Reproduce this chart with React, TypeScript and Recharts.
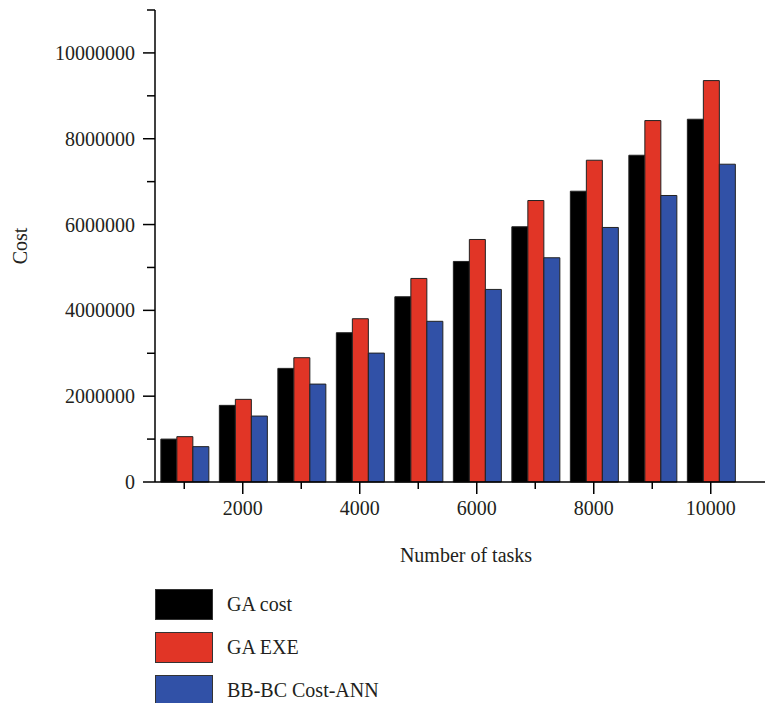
import { BarChart, Bar, XAxis, YAxis } from "recharts"

const tasks = [1000, 2000, 3000, 4000, 5000, 6000, 7000, 8000, 9000, 10000]
const gaCost = [1000000, 1786000, 2648000, 3479000, 4317000, 5140000, 5948000, 6777000, 7615000, 8454000]
const gaExe = [1057000, 1926000, 2897000, 3805000, 4744000, 5652000, 6560000, 7499000, 8423000, 9355000]
const bbbcCost = [824000, 1537000, 2282000, 3004000, 3745000, 4488000, 5226000, 5932000, 6677000, 7406000]
const yTicks = [0, 1000000, 2000000, 3000000, 4000000, 5000000, 6000000, 7000000, 8000000, 9000000, 10000000, 11000000]

const seriesNames = ["GA cost", "GA EXE", "BB-BC Cost-ANN"]
const colors = ["#000000", "#e13526", "#3151a7"]

const FONT = '"Liberation Serif", "DejaVu Serif", serif'
const TEXT = "#231f20"

const data = tasks.map((t, i) => ({
  tasks: t,
  gaCost: gaCost[i],
  gaExe: gaExe[i],
  bbbc: bbbcCost[i],
}))

function XTick({ x, y, payload }: any) {
  const major = payload.value % 2000 === 0
  return (
    <g>
      <line x1={x} x2={x} y1={y} y2={y + (major ? 12 : 7)} stroke="#000" strokeWidth={1.5} />
      {major && (
        <text x={x} y={y + 33} textAnchor="middle" fontSize={20} fontFamily={FONT} fill={TEXT}>
          {payload.value}
        </text>
      )}
    </g>
  )
}

function YTick({ x, y, payload }: any) {
  const major = payload.value % 2000000 === 0
  return (
    <g>
      <line x1={x - (major ? 12 : 8)} x2={x} y1={y} y2={y} stroke="#000" strokeWidth={1.5} />
      {major && (
        <text x={x - 20} y={y + 7} textAnchor="end" fontSize={20} fontFamily={FONT} fill={TEXT}>
          {payload.value}
        </text>
      )}
    </g>
  )
}

export default function App() {
  return (
    <div style={{ position: "absolute", left: 0, top: 0, width: 765, height: 703, background: "#fff" }}>
      <BarChart
        width={765}
        height={703}
        data={data}
        margin={{ top: 10, right: 0, bottom: 141, left: 0 }}
        barCategoryGap="10%"
        barGap={0}
      >
        <XAxis
          dataKey="tasks"
          type="category"
          height={80}
          padding={{ left: 0, right: 25 }}
          tickSize={0}
          tickMargin={0}
          tickLine={false}
          interval={0}
          tick={<XTick />}
          axisLine={{ stroke: "#000", strokeWidth: 1.5 }}
          label={{
            value: "Number of tasks",
            position: "insideBottom",
            offset: 0,
            dx: 6,
            fontSize: 20,
            fontFamily: FONT,
            fill: TEXT,
          }}
        />
        <YAxis
          type="number"
          width={155}
          domain={[0, 11000000]}
          ticks={yTicks}
          interval={0}
          tickSize={0}
          tickMargin={0}
          tickLine={false}
          tick={<YTick />}
          axisLine={{ stroke: "#000", strokeWidth: 1.5 }}
          label={{
            value: "Cost",
            angle: -90,
            position: "insideLeft",
            offset: 20,
            fontSize: 20,
            fontFamily: FONT,
            fill: TEXT,
            style: { textAnchor: "middle" },
          }}
        />
        <Bar dataKey="gaCost" name={seriesNames[0]} fill={colors[0]} stroke="#222" strokeWidth={1} isAnimationActive={false} />
        <Bar dataKey="gaExe" name={seriesNames[1]} fill={colors[1]} stroke="#222" strokeWidth={1} isAnimationActive={false} />
        <Bar dataKey="bbbc" name={seriesNames[2]} fill={colors[2]} stroke="#222" strokeWidth={1} isAnimationActive={false} />
      </BarChart>
      <div style={{ position: "absolute", left: 155, top: 589, fontFamily: FONT, fontSize: 20, color: TEXT }}>
        {seriesNames.map((n, i) => (
          <div key={n} style={{ display: "flex", alignItems: "center", height: 30, marginBottom: 13 }}>
            <div style={{ width: 56, height: 29, background: colors[i], border: "1px solid #333" }} />
            <span style={{ marginLeft: 14 }}>{n}</span>
          </div>
        ))}
      </div>
    </div>
  )
}
